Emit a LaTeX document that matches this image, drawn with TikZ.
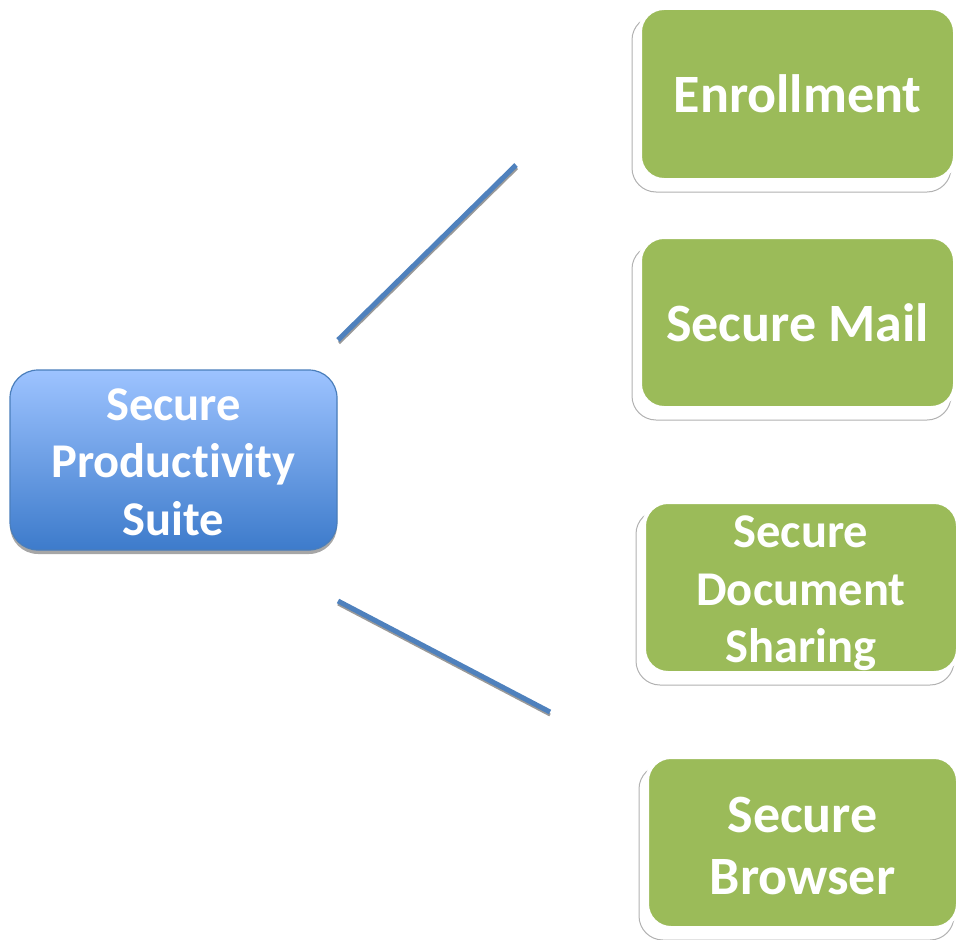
\documentclass[tikz,border=0pt]{standalone}
\usepackage{fontspec}
\setmainfont[Ligatures=NoCommon]{Carlito}
\begin{document}
\begin{tikzpicture}[x=1pt,y=-1pt,
  greenbox/.style={rectangle, rounded corners=24pt, fill={rgb,255:red,155;green,187;blue,89}, draw=white, line width=4pt, inner sep=0pt},
  greenshadow/.style={rectangle, rounded corners=24pt, fill=white, draw=gray!60, line width=1pt},
  bluebox/.style={rectangle, rounded corners=28pt, top color={rgb,255:red,157;green,195;blue,255}, bottom color={rgb,255:red,61;green,123;blue,203}, draw={rgb,255:red,74;green,126;blue,187}, line width=1.2pt, inner sep=0pt},
  blueshadow/.style={rectangle, rounded corners=28pt, fill=gray!70, draw=none},
  boxtext/.style={text=white, align=center, inner sep=0pt},
  bigfont/.style={font=\bfseries\fontsize{54}{62}\selectfont},
  midfont/.style={font=\bfseries\fontsize{48.5}{57.5}\selectfont},
  conn/.style={draw={rgb,255:red,79;green,129;blue,189}, line width=5pt},
  connshadow/.style={draw=gray!80, line width=3pt}]
\useasboundingbox (0,0) rectangle (960,939);

% shadows
\node[greenshadow, minimum width=319pt, minimum height=176pt] (s1) at (791.5,104) {};
\node[greenshadow, minimum width=319pt, minimum height=175pt] (s2) at (791.5,332.5) {};
\node[greenshadow, minimum width=318pt, minimum height=175pt] (s3) at (795,597.5) {};
\node[greenshadow, minimum width=315pt, minimum height=175pt] (s4) at (796.5,852.5) {};
\node[blueshadow, minimum width=327pt, minimum height=180pt] (s0) at (173.5,464) {};

% boxes
\node[bluebox, minimum width=327pt, minimum height=180pt] (suite) at (173.5,460) {};
\node[greenbox, minimum width=315pt, minimum height=172pt] (enroll) at (797.5,94) {};
\node[greenbox, minimum width=315pt, minimum height=171pt] (mail) at (797.5,322.5) {};
\node[greenbox, minimum width=314pt, minimum height=171pt] (doc) at (801,587.5) {};
\node[greenbox, minimum width=311pt, minimum height=171pt] (browser) at (802.5,842.5) {};

% texts
\node[boxtext, midfont] (suitetext) at ([yshift=-2pt]suite.center) {Secure\\Productivity\\Suite};
\node[boxtext, bigfont] (enrolltext) at (enroll.center) {Enrollment};
\node[boxtext, bigfont] (mailtext) at (mail.center) {Secure Mail};
\node[boxtext, midfont] (doctext) at ([yshift=-6pt]doc.center) {Secure\\Document\\Sharing};
\node[boxtext, bigfont] (browsertext) at ([yshift=-3pt]browser.center) {Secure\\Browser};

% connectors (free-floating)
\coordinate (a1) at (338,340);
\coordinate (a2) at (516,165);
\coordinate (b1) at (338,601);
\coordinate (b2) at (550,712);
\coordinate (a1s) at (339,343);
\coordinate (a2s) at (517,168);
\coordinate (b1s) at (338,604);
\coordinate (b2s) at (550,715);
\draw[connshadow] (a1s) -- (a2s);
\draw[connshadow] (b1s) -- (b2s);
\draw[conn] (a1) -- (a2);
\draw[conn] (b1) -- (b2);
\end{tikzpicture}
\end{document}
